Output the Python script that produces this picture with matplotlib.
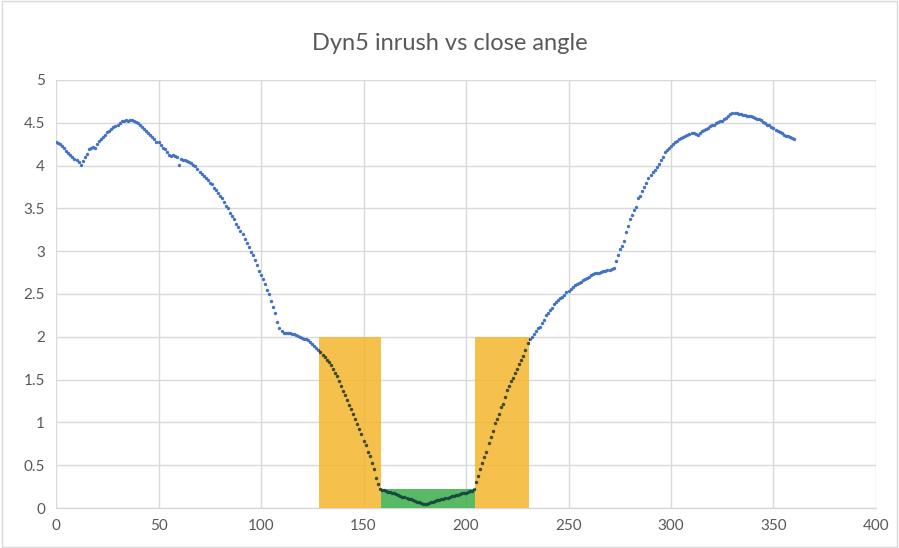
import numpy as np
import matplotlib
matplotlib.use("Agg")
import matplotlib.pyplot as plt
from matplotlib.patches import Rectangle

# close angle in degrees, one reading per degree
angle = np.arange(0, 361)

# inrush (pu), grouped by decade
inrush = [
    4.27, 4.26, 4.25, 4.23, 4.21, 4.17, 4.15, 4.12, 4.10, 4.08,
    4.06, 4.04, 4.01, 4.05, 4.10, 4.14, 4.19, 4.20, 4.22, 4.21,
    4.25, 4.29, 4.31, 4.33, 4.36, 4.39, 4.40, 4.43, 4.45, 4.46,
    4.48, 4.50, 4.52, 4.52, 4.53, 4.52, 4.53, 4.53, 4.52, 4.51,
    4.50, 4.48, 4.45, 4.43, 4.41, 4.38, 4.36, 4.33, 4.31, 4.28,
    4.27, 4.24, 4.21, 4.19, 4.16, 4.12, 4.11, 4.12, 4.11, 4.10,
    4.01, 4.08, 4.07, 4.06, 4.05, 4.04, 4.03, 4.01, 3.99, 3.96,
    3.93, 3.90, 3.88, 3.85, 3.83, 3.80, 3.78, 3.74, 3.71, 3.68,
    3.64, 3.62, 3.58, 3.53, 3.50, 3.45, 3.41, 3.38, 3.32, 3.28,
    3.24, 3.20, 3.14, 3.10, 3.05, 2.99, 2.95, 2.90, 2.84, 2.77,
    2.72, 2.68, 2.62, 2.55, 2.50, 2.42, 2.35, 2.28, 2.17, 2.10,
    2.07, 2.05, 2.05, 2.04, 2.04, 2.03, 2.03, 2.02, 2.01, 2.00,
    1.99, 1.98, 1.97, 1.96, 1.94, 1.92, 1.89, 1.87, 1.85, 1.82,
    1.79, 1.76, 1.73, 1.70, 1.67, 1.62, 1.58, 1.54, 1.48, 1.43,
    1.37, 1.32, 1.26, 1.20, 1.16, 1.10, 1.04, 0.98, 0.92, 0.86,
    0.78, 0.74, 0.66, 0.61, 0.52, 0.46, 0.35, 0.28, 0.22, 0.21,
    0.205, 0.20, 0.19, 0.185, 0.175, 0.17, 0.16, 0.15, 0.14, 0.13,
    0.125, 0.115, 0.105, 0.10, 0.09, 0.08, 0.075, 0.065, 0.06, 0.05,
    0.045, 0.05, 0.06, 0.065, 0.075, 0.08, 0.09, 0.095, 0.10, 0.11,
    0.115, 0.12, 0.13, 0.135, 0.14, 0.15, 0.155, 0.16, 0.17, 0.175,
    0.18, 0.19, 0.195, 0.20, 0.22, 0.30, 0.37, 0.46, 0.52, 0.60,
    0.65, 0.76, 0.83, 0.90, 0.99, 1.04, 1.10, 1.18, 1.22, 1.30,
    1.38, 1.42, 1.48, 1.52, 1.58, 1.62, 1.68, 1.73, 1.78, 1.85,
    1.93, 1.97, 2.00, 2.03, 2.07, 2.10, 2.12, 2.16, 2.20, 2.25,
    2.28, 2.31, 2.34, 2.38, 2.41, 2.43, 2.45, 2.47, 2.49, 2.52,
    2.54, 2.56, 2.58, 2.60, 2.62, 2.63, 2.64, 2.66, 2.67, 2.69,
    2.70, 2.72, 2.73, 2.74, 2.75, 2.75, 2.76, 2.77, 2.77, 2.78,
    2.78, 2.79, 2.80, 2.88, 2.95, 3.02, 3.06, 3.12, 3.23, 3.29,
    3.38, 3.42, 3.48, 3.52, 3.62, 3.64, 3.70, 3.75, 3.80, 3.86,
    3.89, 3.92, 3.95, 3.98, 4.02, 4.06, 4.10, 4.16, 4.18, 4.21,
    4.23, 4.25, 4.27, 4.29, 4.31, 4.32, 4.33, 4.35, 4.36, 4.37,
    4.38, 4.38, 4.37, 4.36, 4.38, 4.41, 4.42, 4.43, 4.44, 4.46,
    4.47, 4.48, 4.50, 4.51, 4.52, 4.52, 4.54, 4.56, 4.58, 4.60,
    4.62, 4.62, 4.61, 4.60, 4.60, 4.59, 4.59, 4.58, 4.58, 4.58,
    4.57, 4.56, 4.55, 4.54, 4.53, 4.51, 4.50, 4.48, 4.47, 4.45,
    4.44, 4.42, 4.41, 4.39, 4.38, 4.36, 4.35, 4.34, 4.33, 4.32,
    4.31,
]

# highlighted bands: (x start, x end, height, fill colour, colour of dots under it)
bands = [
    (128.5, 158.5, 2.0, "#f5b52c", "#3e4a2c"),
    (204.5, 230.5, 2.0, "#f5b52c", "#3e4a2c"),
    (158.5, 204.5, 0.22, "#3cae4a", "#1b4a40"),
]

x_ticks = list(range(0, 401, 50))
y_ticks = [0, 0.5, 1, 1.5, 2, 2.5, 3, 3.5, 4, 4.5, 5]
y_labels = ["0", "0.5", "1", "1.5", "2", "2.5", "3", "3.5", "4", "4.5", "5"]

plt.rcParams["font.family"] = ["Lato", "DejaVu Sans"]
text_grey = "#595959"
grid_grey = "#d9d9d9"

fig = plt.figure(figsize=(8.99, 5.48), dpi=100)
ax = fig.add_axes([56 / 899, 1 - 508 / 548, 820 / 899, 428 / 548])

ax.scatter(angle, inrush, s=6, color="#4472c4", linewidths=0, zorder=3)

for x0, x1, h, fill, dot in bands:
    rect = Rectangle((x0, 0), x1 - x0, h, facecolor=fill, alpha=0.85,
                     linewidth=0, zorder=4)
    ax.add_patch(rect)
    # the points seen through the band look darker
    under = ax.scatter(angle, inrush, s=6, color=dot, linewidths=0, zorder=5)
    under.set_clip_path(rect)

ax.set_xlim(0, 400)
ax.set_ylim(0, 5)
ax.set_xticks(x_ticks)
ax.set_yticks(y_ticks)
ax.set_yticklabels(y_labels)
ax.grid(True, color=grid_grey, linewidth=1)
ax.set_axisbelow(True)
for side in ["top", "right", "left"]:
    ax.spines[side].set_visible(False)
ax.spines["bottom"].set_color(grid_grey)
ax.spines["bottom"].set_linewidth(1)
ax.tick_params(length=0, labelsize=11, colors=text_grey, pad=8)

fig.text(0.5, 1 - 43 / 548, "Dyn5 inrush vs close angle", ha="center",
         va="center", fontsize=17, color=text_grey)

# chart area border
fig.patches.append(Rectangle((0.002, 0.002), 0.996, 0.996, transform=fig.transFigure,
                             fill=False, edgecolor="#d9d9d9", linewidth=1))

fig.savefig("out.png", dpi=100)
